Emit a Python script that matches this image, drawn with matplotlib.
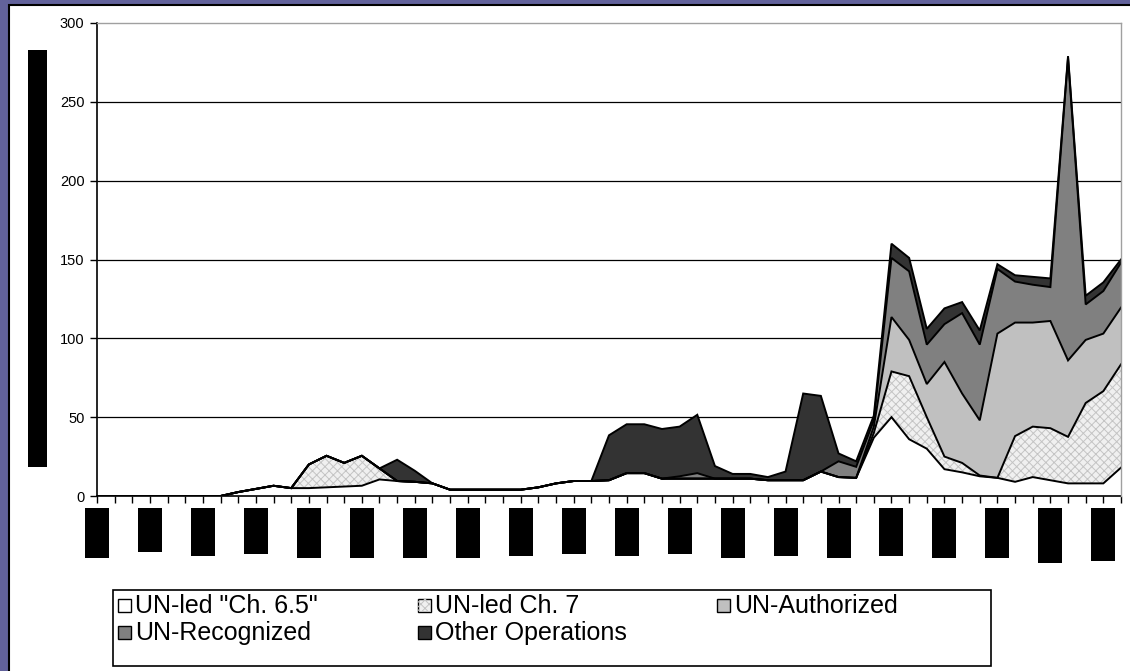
import matplotlib
matplotlib.use('Agg')
import matplotlib.pyplot as plt
import matplotlib.transforms as mtrans
from matplotlib.patches import Rectangle
import numpy as np

# values, one per category (59 categories)
ch65 = [0, 0, 0, 0, 0, 0, 0, 0, 2.5, 4.5, 6.5, 5, 5, 5.5, 6, 6.5, 10.5, 9.5, 9, 8,
        4, 4, 4, 4, 4, 5.5, 8, 9.5, 9.5, 10, 14.5, 14.5, 11, 11, 11, 11, 11, 11, 10, 10,
        10, 15.5, 12, 11.5, 37, 50, 36, 30, 17, 15, 12.5, 11.5, 9, 12, 10, 8, 8, 8, 18]
ch7 = [0, 0, 0, 0, 0, 0, 0, 0, 0, 0, 0, 0, 15, 20, 15, 19, 7, 0, 0, 0,
       0, 0, 0, 0, 0, 0, 0, 0, 0, 0, 0, 0, 0, 0, 0, 0, 0, 0, 0, 0,
       0, 0, 0, 0, 3, 29, 40, 20, 8, 6, 0.5, 0, 29, 32, 33, 29.5, 51, 58.5, 65.5]
authorized = [0, 0, 0, 0, 0, 0, 0, 0, 0, 0, 0, 0, 0, 0, 0, 0, 0, 0, 0, 0,
              0, 0, 0, 0, 0, 0, 0, 0, 0, 0, 0, 0, 0, 0, 0, 0, 0, 0, 0, 0,
              0, 0, 0, 0, 4, 34.5, 23, 21, 60, 44, 35, 91.5, 72, 66, 68, 48.5, 40, 36.5, 36]
recognized = [0, 0, 0, 0, 0, 0, 0, 0, 0, 0, 0, 0, 0, 0, 0, 0, 0, 0, 0, 0,
              0, 0, 0, 0, 0, 0, 0, 0, 0, 0, 0, 0, 0, 1.5, 3.5, 0, 0, 0, 0, 0,
              0, 0, 10, 7, 4, 37.5, 43.5, 25, 24, 51, 48, 41, 26, 24, 21.5, 192, 22.5, 27, 28.5]
other = [0, 0, 0, 0, 0, 0, 0, 0, 0, 0, 0, 0, 0, 0, 0, 0, 0, 13.5, 7, 0,
         0, 0, 0, 0, 0, 0, 0, 0, 0, 28.5, 31, 31, 31.5, 31.5, 37, 8, 3, 3, 2, 5.5,
         55, 48, 5, 3.5, 3, 9, 8.5, 10, 10, 7, 9, 3, 4, 5, 5.5, 1, 5.5, 5.5, 2]

series_names = ['UN-led "Ch. 6.5"', 'UN-led Ch. 7', 'UN-Authorized',
                'UN-Recognized', 'Other Operations']
yticks = [0, 50, 100, 150, 200, 250, 300]

# looks
fill_colors = ['white', '#f0f0f0', '#c0c0c0', '#808080', '#333333']
hatched = [False, True, False, False, False]
# lengths (px) of the blacked-out category labels
label_len_px = [50, 44, 48, 46, 50, 50, 50, 50, 48, 46, 48, 46, 50, 48, 50, 48, 50, 50, 55, 53]

W, H = 1130, 671
plt.rcParams['font.family'] = ['Liberation Sans', 'DejaVu Sans']
plt.rcParams['hatch.linewidth'] = 0.7


def fx(px):
    return px / W


def fy(py):
    return 1 - py / H


fig = plt.figure(figsize=(W / 100, H / 100), dpi=100, facecolor='#62629b')

# white page with black edge on the left and top
fig.add_artist(Rectangle((fx(9), -0.1), 1.2, fy(5) + 0.1, transform=fig.transFigure,
                         facecolor='white', edgecolor='black', linewidth=1.5, zorder=-5))

ax = fig.add_axes([fx(97), fy(496), fx(1121) - fx(97), fy(23) - fy(496)])
x = np.arange(len(ch65))

bottom = np.zeros(len(x))
tops = []
for vals, fc, hat in zip([ch65, ch7, authorized, recognized, other], fill_colors, hatched):
    top = bottom + np.array(vals, dtype=float)
    ax.fill_between(x, bottom, top, facecolor=fc, linewidth=0, zorder=2)
    if hat:
        ax.fill_between(x, bottom, top, facecolor='none', edgecolor='#c4c4c4',
                        hatch='xxxx', linewidth=0, zorder=2.1)
    tops.append(top)
    bottom = top

for top in tops:
    ax.plot(x, top, color='black', linewidth=1.4, zorder=3, solid_joinstyle='miter')

# gridlines (the one at 300 is the top frame)
ax.hlines(yticks[1:-1], x[0], x[-1], color='black', linewidth=0.9, zorder=1)

ax.set_xlim(x[0], x[-1])
ax.set_ylim(yticks[0], yticks[-1])
ax.set_xticks(x)
ax.set_xticklabels([])
ax.set_yticks(yticks)
ax.tick_params(axis='x', direction='out', length=5, width=1, color='black')
ax.tick_params(axis='y', direction='out', length=5, width=1, color='black',
               labelsize=10.5, pad=4)
for s in ['left', 'bottom']:
    ax.spines[s].set_color('black')
    ax.spines[s].set_linewidth(1.2)
for s in ['top', 'right']:
    ax.spines[s].set_color('#a0a0a0')
    ax.spines[s].set_linewidth(1)
    ax.spines[s].set_zorder(4)

# blacked-out category labels under every third tick
blend = mtrans.blended_transform_factory(ax.transData, fig.transFigure)
for k, i in enumerate(x[::3]):
    h = label_len_px[k]
    ax.add_patch(Rectangle((i - 0.68, fy(508 + h)), 1.36, h / H, transform=blend,
                           facecolor='black', edgecolor='none', clip_on=False))

# blacked-out y axis title
fig.add_artist(Rectangle((fx(28), fy(467)), fx(47) - fx(28), (467 - 50) / H,
                         transform=fig.transFigure, facecolor='black', edgecolor='none'))

# legend box, entries row by row
fig.add_artist(Rectangle((fx(113), fy(666)), fx(991) - fx(113), (666 - 590) / H,
                         transform=fig.transFigure, facecolor='white',
                         edgecolor='black', linewidth=1.2))
col_px = [118, 418, 717]
row_px = [605, 632]
for n, (name, fc, hat) in enumerate(zip(series_names, fill_colors, hatched)):
    cx = col_px[n % 3]
    ry = row_px[n // 3]
    fig.add_artist(Rectangle((fx(cx), fy(ry + 6.5)), 13 / W, 13 / H,
                             transform=fig.transFigure, facecolor=fc,
                             edgecolor='black', linewidth=1))
    if hat:
        fig.add_artist(Rectangle((fx(cx), fy(ry + 6.5)), 13 / W, 13 / H,
                                 transform=fig.transFigure, facecolor='none',
                                 edgecolor='#c4c4c4', hatch='xxxx', linewidth=0))
    fig.text(fx(cx + 17), fy(ry + 1), name, ha='left', va='center', fontsize=18)

fig.savefig('out.png', dpi=100, facecolor=fig.get_facecolor())
